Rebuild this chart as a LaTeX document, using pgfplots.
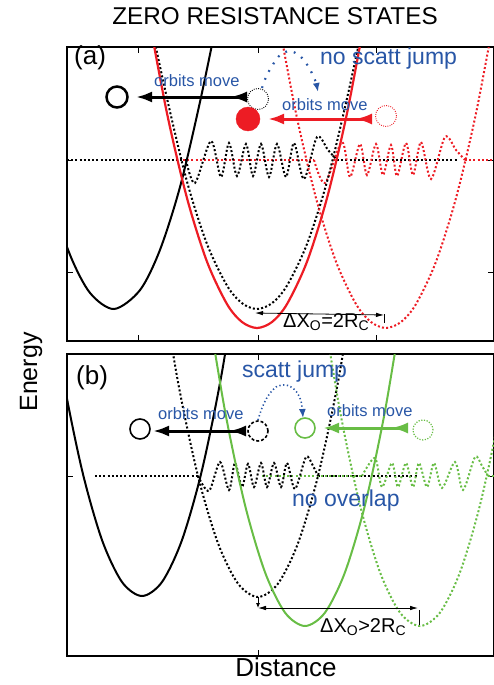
\documentclass[border=0pt]{standalone}
\usepackage{fontspec}
\setmainfont{Liberation Sans}
\usepackage{pgfplots}
\pgfplotsset{compat=1.18}
\usetikzlibrary{arrows.meta}
\definecolor{myred}{RGB}{237,28,36}
\definecolor{mygreen}{RGB}{104,189,69}
\definecolor{myblue}{RGB}{40,86,166}
\tikzset{
  dots/.style={line width=2pt, dash pattern=on 2pt off 2.2pt},
  bigarrow/.style={line width=3pt, {Latex[reversed,length=17pt,width=11pt]}-{Latex[length=16pt,width=11pt]}},
}
\pgfplotsset{
  panel/.style={x=1pt, y=1pt, anchor=south west, xmin=67, xmax=494,
    axis line style={line width=1.6pt}, tick style={line width=1pt, black},
    major tick length=6pt, xticklabels={}, yticklabels={}, tick align=inside, clip=true},
}
\begin{document}
\begin{tikzpicture}
% ---------------- panel (a)
\begin{axis}[panel, at={(67pt,-341pt)}, ymin=-341, ymax=-47, xtick={138,258,376}, ytick={-272,-160}]
\addplot[black, dots] coordinates {(67,-160) (186,-160)};
\addplot[black, dots] coordinates {(337,-160) (458,-160)};
\addplot[myred, dots] coordinates {(183,-160) (314,-160)};
\addplot[myred, dots] coordinates {(465,-160) (494,-160)};
\addplot[black, dots, smooth] coordinates {(186,-160) (195,-183) (211,-141) (221,-177) (229,-143) (237,-176) (246,-144) (253,-176) (261,-144) (269,-177) (277,-144) (286,-177) (294,-143) (304,-179) (317,-137) (328,-150) (337,-160)};
\addplot[myred, dots, smooth] coordinates {(314,-160) (325,-183) (342,-142) (350,-177) (360,-144) (367,-175) (376,-144) (383,-175) (391,-145) (397,-176) (406,-143) (413,-175) (421,-142) (431,-179) (445,-137) (456,-150) (465,-160)};
\addplot[black, dots, smooth] coordinates {(147,-5.6) (167,-98.4) (187,-181.6) (207,-244) (227,-285.6) (242,-303.2) (257,-309) (272,-303.2) (287,-285.6) (307,-244) (327,-181.6) (347,-98.4) (367,-5.6)};
\addplot[myred, dots, smooth] coordinates {(276,-7.3) (296,-113.3) (316,-198.1) (336,-261.7) (356,-304.1) (371,-322) (386,-328) (401,-322) (416,-304.1) (436,-261.7) (456,-198.1) (476,-113.3) (496,-7.3)};
\addplot[black, line width=2pt, smooth] coordinates {(30,-111.4) (50,-194.3) (70,-254.8) (90,-292.9) (114,-309) (140,-290.1) (160,-249.8) (180,-187) (200,-101.9) (220,-5.6)};
\addplot[myred, line width=2.2pt, smooth] coordinates {(147,-7.3) (167,-113.3) (187,-198.1) (207,-261.7) (227,-304.1) (242,-322) (257,-328) (272,-322) (287,-304.1) (307,-261.7) (327,-198.1) (347,-113.3) (367,-7.3)};
% circles
\addplot[only marks, mark=o, mark size=10.5pt, mark options={black, solid, line width=2.5pt}] coordinates {(117,-97)};
\addplot[only marks, mark=o, mark size=10.5pt, mark options={black, line width=0.9pt, dash pattern=on 0.9pt off 1.3pt}] coordinates {(258,-99)};
\addplot[only marks, mark=*, mark size=12pt, mark options={fill=myred, draw=myred, solid}] coordinates {(248,-119)};
\addplot[only marks, mark=o, mark size=10.5pt, mark options={myred, line width=0.9pt, dash pattern=on 0.9pt off 1.3pt}] coordinates {(386,-116)};
% arrows
\addplot[black, bigarrow] coordinates {(247,-97) (136,-97)};
\addplot[myred, bigarrow] coordinates {(372,-119) (268,-119)};
\addplot[myblue, line width=2.2pt, dash pattern=on 1.8pt off 7pt, smooth, -{Latex[length=9pt,width=7pt]}] coordinates {(262,-88) (266,-77) (272,-66) (280,-55) (290,-51) (300,-56) (308,-66) (315,-80) (318,-92)};
% Delta X
\addplot[black, line width=0.8pt, {Latex[length=8pt,width=4.5pt]}-{Latex[length=8pt,width=4.5pt]}] coordinates {(255,-313) (384,-315)};
\addplot[black, line width=0.8pt] coordinates {(384,-314) (384,-323)};
\end{axis}
% ---------------- panel (b)
\begin{axis}[panel, at={(67pt,-656pt)}, ymin=-656, ymax=-354, xtick={258}, ytick={-476}]
\addplot[black, dots] coordinates {(95,-476) (198,-476)};
\addplot[black, dots] coordinates {(318,-476) (417,-476)};
\addplot[mygreen, dots] coordinates {(262,-476) (362,-476)};
\addplot[mygreen, dots] coordinates {(488,-476) (494,-476)};
\addplot[black, dots, smooth] coordinates {(198,-476) (209,-491) (220,-462) (229,-490) (235,-463) (242,-487) (248,-464) (254,-487) (261,-463) (267,-487) (274,-463) (281,-487) (287,-463) (295,-489) (306,-457) (313,-466) (318,-476)};
\addplot[mygreen, dots, smooth] coordinates {(362,-476) (375,-458) (382,-487) (392,-463) (398,-487) (406,-463) (413,-487) (419,-463) (427,-487) (434,-463) (442,-488) (455,-462) (463,-490) (475,-457) (482,-466) (488,-476)};
\addplot[black, dots, smooth] coordinates {(158,-261) (178,-382) (198,-476) (218,-543.2) (238,-583.6) (258,-597) (278,-583.6) (298,-543.2) (318,-476) (338,-382) (358,-261)};
\addplot[mygreen, dots, smooth] coordinates {(320,-290) (340,-411) (360,-505) (380,-572.2) (400,-612.6) (420,-626) (440,-612.6) (460,-572.2) (480,-505) (500,-411) (520,-290)};
\addplot[black, line width=2pt, smooth] coordinates {(42,-246) (62,-372) (82,-470) (102,-540) (122,-582) (142,-596) (162,-582) (182,-540) (202,-470) (222,-372) (242,-246)};
\addplot[mygreen, line width=2pt, smooth] coordinates {(205,-290) (225,-411) (245,-505) (265,-572.2) (285,-612.6) (305,-626) (325,-612.6) (345,-572.2) (365,-505) (385,-411) (405,-290)};
% circles
\addplot[only marks, mark=o, mark size=10pt, mark options={black, solid, line width=1.6pt}] coordinates {(140,-429)};
\addplot[only marks, mark=o, mark size=10pt, mark options={black, line width=1.6pt, dash pattern=on 3pt off 2pt}] coordinates {(258,-431)};
\addplot[only marks, mark=o, mark size=10pt, mark options={mygreen, solid, line width=1.6pt}] coordinates {(305,-428)};
\addplot[only marks, mark=o, mark size=10pt, mark options={mygreen, line width=1.2pt, dash pattern=on 1.2pt off 1.5pt}] coordinates {(423,-430)};
% arrows
\addplot[black, bigarrow] coordinates {(246,-431) (153,-431)};
\addplot[mygreen, bigarrow] coordinates {(408,-428) (323,-428)};
\addplot[myblue, line width=1.6pt, dash pattern=on 1.3pt off 2.5pt, smooth, -{Latex[length=9pt,width=7pt]}] coordinates {(258,-420) (262,-408) (268,-396) (276,-387) (286,-385) (295,-390) (301,-401) (303,-418)};
% Delta X
\addplot[black, line width=0.8pt, {Latex[length=8pt,width=4.5pt]}-{Latex[length=8pt,width=4.5pt]}] coordinates {(258,-608) (418,-608)};
\addplot[black, line width=0.8pt, -{Latex[length=5pt,width=4pt]}] coordinates {(258,-597) (258,-608)};
\addplot[black, line width=0.8pt] coordinates {(419,-610) (419,-625)};
\end{axis}
% ---------------- texts
\node[anchor=base, inner sep=0, font=\fontsize{24.3}{28}\selectfont] at (275pt,-25pt) {ZERO RESISTANCE STATES};
\node[anchor=base west, inner sep=0, font=\fontsize{26}{30}\selectfont] at (74pt,-64pt) {(a)};
\node[anchor=base west, inner sep=0, text=myblue, font=\fontsize{23}{26}\selectfont] at (320pt,-64pt) {no scatt jump};
\node[anchor=base west, inner sep=0, text=myblue, font=\fontsize{16.5}{18}\selectfont] at (154pt,-86pt) {orbits move};
\node[anchor=base west, inner sep=0, text=myblue, font=\fontsize{16.5}{18}\selectfont] at (282pt,-110pt) {orbits move};
\node[anchor=base west, inner sep=0, font=\fontsize{20}{22}\selectfont] at (283pt,-327pt) {ΔX\textsubscript{O}=2R\textsubscript{C}};
\node[anchor=base west, inner sep=0, font=\fontsize{26}{30}\selectfont] at (76pt,-384pt) {(b)};
\node[anchor=base west, inner sep=0, text=myblue, font=\fontsize{23}{26}\selectfont] at (242pt,-377pt) {scatt jump};
\node[anchor=base west, inner sep=0, text=myblue, font=\fontsize{16.5}{18}\selectfont] at (158pt,-419pt) {orbits move};
\node[anchor=base west, inner sep=0, text=myblue, font=\fontsize{16.5}{18}\selectfont] at (327pt,-416pt) {orbits move};
\node[anchor=base west, inner sep=0, text=myblue, font=\fontsize{23}{26}\selectfont] at (292pt,-506pt) {no overlap};
\node[anchor=base west, inner sep=0, font=\fontsize{20}{22}\selectfont] at (320pt,-632pt) {ΔX\textsubscript{O}>2R\textsubscript{C}};
\node[anchor=base, inner sep=0, font=\fontsize{26}{30}\selectfont] at (286pt,-676pt) {Distance};
\node[rotate=90, anchor=center, inner sep=0, font=\fontsize{25}{30}\selectfont] at (31pt,-372pt) {Energy};
\pgfresetboundingbox
\path[use as bounding box] (0,0) rectangle (493pt,-685pt);
\end{tikzpicture}
\end{document}
